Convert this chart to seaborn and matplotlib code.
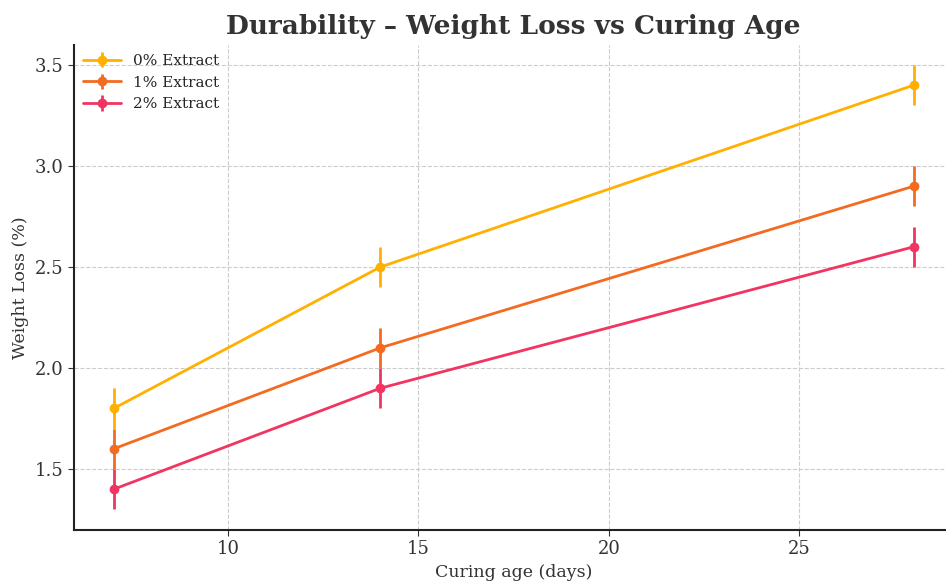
import numpy as np
import matplotlib
matplotlib.use('Agg')
import matplotlib.pyplot as plt
import seaborn as sns

# Dados
curing_age = [7, 14, 28]
series_names = ['0% Extract', '1% Extract', '2% Extract']
loss_0 = [1.8, 2.5, 3.4]
loss_1 = [1.6, 2.1, 2.9]
loss_2 = [1.4, 1.9, 2.6]
err_0 = [0.1, 0.1, 0.1]
err_1 = [0.1, 0.1, 0.1]
err_2 = [0.1, 0.1, 0.1]
colors = ['#FFB000', '#F26B21', '#F23462']

sns.set_style('whitegrid', {'grid.linestyle': '--', 'grid.color': '#cccccc'})
plt.rcParams['font.family'] = ['DejaVu Serif']

fig = plt.figure(figsize=(9.46, 5.82), dpi=100)
ax = fig.add_axes([0.078, 0.09, 0.93, 0.833])

for name, y, e, c in zip(series_names, [loss_0, loss_1, loss_2], [err_0, err_1, err_2], colors):
    ax.errorbar(curing_age, y, yerr=e, color=c, marker='o', markersize=6,
                linewidth=2, elinewidth=2, capsize=0, label=name)

ax.set_ylim(1.2, 3.6)
ax.set_yticks([1.5, 2.0, 2.5, 3.0, 3.5])
ax.set_xticks([10, 15, 20, 25])
ax.set_title('Durability – Weight Loss vs Curing Age', fontsize=19, fontweight='heavy',
             color='#333333', pad=8)
ax.set_xlabel('Curing age (days)', fontsize=12.5, color='#333333', labelpad=4)
ax.set_ylabel('Weight Loss (%)', fontsize=12.5, color='#333333')
ax.tick_params(labelsize=13, colors='#333333', length=4, left=True, bottom=True)
sns.despine(ax=ax)
for s in ['left', 'bottom']:
    ax.spines[s].set_color('#222222')
    ax.spines[s].set_linewidth(1.5)
ax.legend(loc='upper left', frameon=False, fontsize=11, borderaxespad=0.2, handlelength=2.5)

plt.savefig('out.png', dpi=100)
